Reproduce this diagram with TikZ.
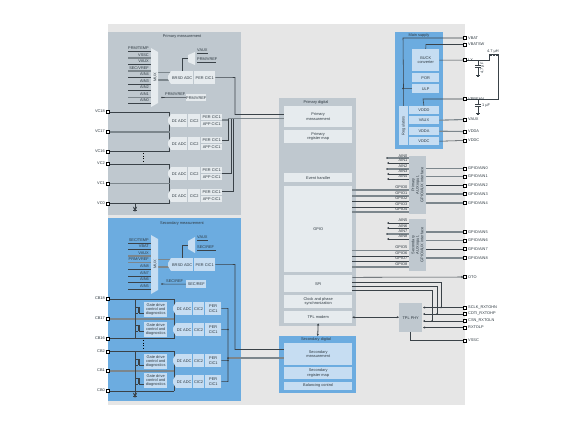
\documentclass[tikz,border=0pt]{standalone}
\usepackage{fontspec}
\setmainfont{Liberation Sans}
\usetikzlibrary{arrows.meta,backgrounds}
\definecolor{bgc}{HTML}{E6E6E6}
\definecolor{panG}{HTML}{BFC8CF}
\definecolor{panB}{HTML}{6CACE0}
\definecolor{boxG}{HTML}{E6EBEE}
\definecolor{boxB}{HTML}{C6DDF2}
\definecolor{ink}{HTML}{2F3A42}
\definecolor{wire}{HTML}{3A4248}
\definecolor{wireg}{HTML}{7C868C}
\newcommand{\fsl}{/}
\tikzset{
 every node/.style={font=\fontsize{3.9}{4.4}\selectfont,text=ink,inner sep=0pt,align=center},
 panelG/.style={fill=panG},
 panelB/.style={fill=panB},
 boxg/.style={fill=boxG},
 boxb/.style={fill=boxB},
 lab/.style={anchor=west},
 labr/.style={anchor=east},
 pinbox/.style={draw=black,fill=white,line width=0.6pt,minimum size=2.6pt},
 ln/.style={draw=wire,line width=0.55pt},
 lng/.style={draw=wireg,line width=1.1pt},
 >={Stealth[length=2.2pt,width=2.2pt]},
}
\newcommand{\mybox}[7]{%
 \pgfmathsetmacro\bwid{(#5)-(#3)}\pgfmathsetmacro\bhei{(#6)-(#4)}%
 \node[#1,minimum width=\bwid pt,minimum height=\bhei pt,anchor=north west] (#2) at (#3,#4) {#7};}
\newcommand{\adcpt}[4]{\fill[#1] (#2,#3) -- (#2-3,{(#3+#4)/2-1.5}) -- (#2-3,{(#3+#4)/2+1.5}) -- (#2,#4) -- cycle;}
\newcommand{\fetsym}[2]{%
 \draw[ln,line width=0.45pt] (#1,#2-3) -- (#1+3,#2-3) (#1+3,#2+3) -- (#1,#2+3);
 \draw[ln,line width=0.8pt] (#1+3,#2-3) -- (#1+3,#2+3);
 \draw[ln,line width=0.45pt] (#1+4.5,#2-3) -- (#1+4.5,#2+3) -- (#1+9,#2+3);}
\begin{document}
\begin{tikzpicture}[x=1pt,y=-1pt]
\useasboundingbox (0,0) rectangle (582,429);
\begin{scope}[on background layer]
\fill[white] (0,0) rectangle (582,429);
\mybox{fill=bgc}{bg}{108}{24}{465}{405}{}
\mybox{panelG}{pm}{108}{32}{241}{215}{}
\mybox{panelB}{sm}{108}{218}{241}{401}{}
\mybox{panelG}{pd}{279}{98}{356}{326}{}
\mybox{panelB}{sd}{279}{336}{356}{393}{}
\mybox{panelB}{ms}{395}{32}{443}{149}{}
\mybox{panelG}{afeA}{409}{156}{426}{214}{}
\mybox{panelG}{afeB}{409}{219}{426}{271}{}
\end{scope}
% titles
\node (tpm) at (182,36.5) {Primary measurement};
\node (tsm) at (182,223.5) {Secondary measurement};
\node (tpd) at (316,102.5) {Primary digital};
\node (tsd) at (316,339.5) {Secondary digital};
\node (tms) at (419,35) {Main supply};
% primary digital blocks
\mybox{boxg}{dpm}{284}{106}{352}{127}{Primary\\measurement}
\mybox{boxg}{dprm}{284}{130}{352}{143}{Primary\\register map}
\mybox{boxg}{dev}{284}{173}{352}{182}{Event handler}
\mybox{boxg}{dgp}{284}{186}{352}{272}{GPIO}
\mybox{boxg}{dspi}{284}{275}{352}{292}{SPI}
\mybox{boxg}{dclk}{284}{295}{352}{308}{Clock and phase\\synchronization}
\mybox{boxg}{dtpl}{284}{311}{352}{323}{TPL modem}
% secondary digital blocks
\mybox{boxb}{dsm}{284}{343}{352}{365}{Secondary\\measurement}
\mybox{boxb}{dsrm}{284}{366.5}{352}{379}{Secondary\\register map}
\mybox{boxb}{dbal}{284}{381.5}{352}{390}{Balancing control}
% main supply
\mybox{boxb}{buck}{412}{49}{439}{71}{BUCK\\converter}
\mybox{boxb}{por}{412}{73}{439}{82}{POR}
\mybox{boxb}{ulp}{412}{84}{439}{93}{ULP}
\mybox{boxb}{regs}{399}{106}{408}{145}{\rotatebox{90}{Regulators}}
\mybox{boxb}{vddd}{408.5}{106}{439}{114}{VDDD}
\mybox{boxb}{vaux}{408.5}{116}{439}{124}{VAUX}
\mybox{boxb}{vdda}{408.5}{127}{439}{135}{VDDA}
\mybox{boxb}{vddc}{408.5}{137}{439}{145}{VDDC}
% TPL PHY
\mybox{panelG}{phy}{399}{303}{422}{332}{TPL PHY}
% AFE texts
\node[rotate=90] (afeAt) at (417.5,185) {Primary\\AUX input,\\GPIO/AUX interface};
\node[rotate=90] (afeBt) at (417.5,245) {Secondary\\AUX input,\\GPIO/AUX interface};
% primary measurement analog
\fill[boxG] (151,48) -- (158,52) -- (158,103) -- (151,107) -- cycle;
\node[rotate=90] (muxA) at (155,77) {MUX};
\fill[boxG] (188,55) -- (195,52) -- (195,65) -- (188,62) -- cycle;
\coordinate (mmA) at (188,58.5);
\adcpt{boxG}{171}{71}{84}
\mybox{boxg}{bradcA}{171}{71}{193}{84}{BRSD ADC}
\mybox{boxg}{brperA}{194}{71}{215}{84}{PER CIC1}
\mybox{boxg}{vrefA}{186}{94}{206}{101}{PRM/VREF}
\node[lab] (lvrefA) at (165,94) {PRM/VREF};
\node[lab] (lmmA1) at (197,50) {VAUX};
\node[lab] (lmmA2) at (197,59) {PRM/VREF};
% secondary measurement analog
\fill[boxB] (151,235) -- (158,239) -- (158,290) -- (151,294) -- cycle;
\node[rotate=90] (muxB) at (155,264.5) {MUX};
\fill[boxB] (188,241) -- (195,237) -- (195,253) -- (188,249) -- cycle;
\coordinate (mmB) at (188,245);
\adcpt{boxB}{171}{258}{271}
\mybox{boxb}{bradcB}{171}{258}{193}{271}{BRSD ADC}
\mybox{boxb}{brperB}{194}{258}{215}{271}{PER CIC1}
\mybox{boxb}{vrefB}{186}{280}{206}{288}{SEC/REF}
\node[lab] (lvrefB) at (166,281) {SEC/REF};
\node[lab] (lmmB1) at (197,237) {VAUX};
\node[lab] (lmmB2) at (197,247) {SEC/REF};
% primary channels
\foreach \n/\yy in {a/114,b/137,c/167,d/189}{
 \adcpt{boxG}{171}{\yy}{\yy+13}
 \mybox{boxg}{adc\n}{171}{\yy}{187}{\yy+13}{DΣ ADC}
 \mybox{boxg}{cic\n}{188}{\yy}{200}{\yy+13}{CIC2}
 \mybox{boxg}{per\n}{201}{\yy}{222}{\yy+6.2}{PER CIC1}
 \mybox{boxg}{app\n}{201}{\yy+6.8}{222}{\yy+13}{APP CIC1}
}
% secondary channels
\foreach \n/\yy/\gy in {a/302/302,b/323/322,c/354/354,d/375/373}{
 \adcpt{boxB}{176}{\yy}{\yy+13}
 \mybox{boxb}{sadc\n}{176}{\yy}{192}{\yy+13}{DΣ ADC}
 \mybox{boxb}{scic\n}{192.7}{\yy}{204}{\yy+13}{CIC2}
 \mybox{boxb}{sper\n}{205}{\yy}{221}{\yy+13}{PER\\CIC1}
 \mybox{boxb}{gate\n}{144}{\gy}{167}{\gy+14.5}{Gate drive\\control and\\diagnostics}
}
% pins left
\foreach \n/\yy in {VC18/112,VC17/132,VC16/151.5,VC2/164,VC1/183.5,VC0/203.5,CB18/299,CB17/319,CB16/338.5,CB2/351.5,CB1/371,CB0/391}{
 \node[pinbox] (p\n) at (107.5,\yy) {};
 \node[labr] (l\n) at (105,\yy-0.7) {\n};
}
% pins right
\foreach \n/\tx/\yy in {a/VBAT/38,b/VBATSW/44.5,c/LX/60,d/VPREHV/99,e/VAUX/119.5,f/VDDA/131.5,g/VDDC/140.5,
 h/GPIO\fsl{}AIN0/168.5,i/GPIO\fsl{}AIN1/176.5,j/GPIO\fsl{}AIN2/185.5,k/GPIO\fsl{}AIN3/194,l/GPIO\fsl{}AIN4/203,
 m/GPIO\fsl{}AIN5/232,n/GPIO\fsl{}AIN6/240.5,o/GPIO\fsl{}AIN7/249,q/GPIO\fsl{}AIN8/258,r/OTO/277,
 s/SCLK\_RXTOHN/307.5,t/CDTI\_RXTOHP/314,u/CSN\_RXTOLN/321,v/RXTOLP/327.5,w/VSSC/340.5}{
 \node[pinbox] (r\n) at (465,\yy) {};
 \node[lab] (rl\n) at (468,\yy-0.2) {\tx};
}
% labels on AFE left side
\foreach \n/\tx/\yy in {a/AIN0/155.7,b/AIN1/160.5,c/AIN2/166.5,d/AIN3/171,e/AIN4/176,f/AIN5/220.5,g/AIN6/226,h/AIN7/231,i/AIN8/236,
 j/GPIO0/187,k/GPIO1/193.5,l/GPIO2/198,m/GPIO3/204,n/GPIO4/209,o/GPIO5/247,q/GPIO6/253,s/GPIO7/258,t/GPIO8/264}{
 \node[labr] (al\n) at (407.5,\yy) {\tx};
}
% mux input labels
\foreach \i/\tx/\yy in {1/PRM\fsl{}TEMP/48,2/VSSC/55,3/VAUX/61.5,4/SEC\fsl{}VREF/68,5/AIN4/74.5,6/AIN3/81.5,7/AIN2/87.5,8/AIN1/94.5,9/AIN0/100.5}{
 \node[labr] (ma\i) at (149,\yy) {\tx};
}
\foreach \i/\tx/\yy in {1/SEC\fsl{}TEMP/240,2/VBAT/246.5,3/VAUX/253,4/PRM\fsl{}VREF/259.5,5/AIN8/266.5,6/AIN7/273,7/AIN6/279.5,8/AIN5/286.5}{
 \node[labr] (mb\i) at (149,\yy) {\tx};
}
% passive labels
\node (lh) at (493,52) {4.7 µH};
\node[rotate=90] (lc1) at (482.5,68) {4.7 µF};
\node[lab] (lc2) at (482,105.5) {1 µF};
% coordinates for wiring
\coordinate (busA1) at (169.5,151.5);
\coordinate (busA2) at (169.5,203.5);
\coordinate (busB1) at (174,338.5);
\coordinate (busB2) at (174,391);
\coordinate (gA) at (135,212);
\coordinate (gB) at (135,398);
\coordinate (pbus) at (228,118.5);
\coordinate (sbus) at (228,358);
% wires on the background layer, above the panels
\begin{scope}[on background layer]
% mux inputs
\foreach \i/\s/\yy in {1/ln/51,2/lng/58,3/ln/64.5,4/lng/71,5/ln/77.5,6/ln/84.5,7/ln/90.5,8/lng/97.5,9/ln/103.5}{
 \coordinate (maE\i) at (128,\yy); \draw[\s] (maE\i) -- ++(23,0);}
\foreach \i/\s/\yy in {1/ln/243,2/ln/249.5,3/lng/256,4/lng/262.5,5/ln/269.5,6/ln/276,7/ln/282.5,8/ln/289.5}{
 \coordinate (mbE\i) at (128,\yy); \draw[\s] (mbE\i) -- ++(23,0);}
\draw[lng] (158,72.5) -- (171,72.5);
\draw[lng] (158,80) -- (171,80);
\draw[lng] (158,259.5) -- (171,259.5);
\draw[lng] (158,267) -- (171,267);
\draw[ln] (mmA) -- (182,58.5) -- (182,71);
\draw[ln] (mmB) -- (182,245) -- (182,258);
\draw[ln] (197,53) -- (208,53) (197,62) -- (216,62);
\draw[ln] (197,240) -- (208,240) (197,250) -- (216,250);
\draw[ln] (162,97.5) -- (vrefA.west);
\fill[wire] (162,97.5) circle (0.9);
\draw[ln] (162,284) -- (vrefB.west);
\fill[wire] (162,284) circle (0.9);
% primary outputs
\draw[ln] (brperA.east) -- (235,77.5) -- (235,114.5) -- (dpm.west |- 0,114.5);
\draw[lng] (pbus) -- (dpm.west |- 0,118.5);
\draw[lng] (pera.east |- 0,120) -- (228,120);
\draw[ln] (perb.east |- 0,140) -- (228,140) -- (pbus);
\draw[ln] (perc.east |- 0,173) -- (231,173) -- (231,118.5);
\draw[ln] (perd.east |- 0,191) -- (233,191) -- (233,118.5);
% secondary outputs
\draw[ln] (brperB.east) -- (235,264.5) -- (235,349.5) -- (dsm.west |- 0,349.5);
\draw[lng] (sbus) -- (dsm.west |- 0,358);
\draw[ln] (sperb.east) -- (228,329.5);
\draw[ln] (spera.east) -- (228,308.5) -- (228,381.5) -- (sperd.east);
\draw[ln] (sperc.east) -- (228,360.5);
\fill[wire] (sbus) circle (1) (228,329.5) circle (0.8) (228,360.5) circle (0.8);
% VC wiring
\draw[ln] (pVC18) -| (busA1);
\draw[lng] (pVC17) -- (169.5,132);
\draw[ln] (pVC16) -- (busA1);
\draw[ln] (pVC2) -| (busA2);
\draw[lng] (pVC1) -- (169.5,183.5);
\draw[ln] (pVC0) -- (busA2);
\draw[ln,-Stealth] (135,203.5) -- (gA);
\draw[line width=0.9pt,draw=wire] (133,210) -- (137,210);
\draw[line width=0.7pt,dotted,draw=black] (143.5,153) -- (143.5,162);
% CB wiring
\draw[ln] (pCB18) -| (busB1);
\draw[lng] (pCB17) -- (174,319);
\draw[ln] (pCB16) -- (busB1);
\draw[ln] (pCB2) -| (busB2);
\draw[lng] (pCB1) -- (174,371);
\draw[ln] (pCB0) -- (busB2);
\draw[ln] (135,299) -- (135,338.5);
\draw[ln,-Stealth] (135,351.5) -- (gB);
\draw[line width=0.9pt,draw=wire] (133,396) -- (137,396);
\draw[line width=0.7pt,dotted,draw=black] (143.5,340) -- (143.5,349);
% digital links
\draw[lng] (dgp.east |- 0,190) -- (409,190);
\draw[lng] (dgp.east |- 0,196) -- (409,196);
\draw[ln] (dgp.east |- 0,201) -- (409,201);
\draw[ln] (dgp.east |- 0,207) -- (409,207);
\draw[lng] (dgp.east |- 0,212) -- (409,212);
\draw[lng] (dgp.east |- 0,250.5) -- (409,250.5);
\draw[ln] (dgp.east |- 0,256) -- (409,256);
\draw[ln] (dgp.east |- 0,261) -- (409,261);
\draw[lng] (dgp.east |- 0,267) -- (409,267);
\draw[ln,line width=0.8pt,<->] (dtpl.south) -- (sd.north);
\draw[ln,line width=0.8pt,<->] (dtpl.east) -- (phy.west |- dtpl.east);
\draw[ln,->] (dspi.east |- 0,277.3) -- (rr);
\draw[ln] (dspi.east |- 0,282) -- (441,282) -- (441,307.5);
\draw[ln] (dspi.east |- 0,286) -- (437,286) -- (437,314);
\draw[ln] (dspi.east |- 0,290.3) -- (432,290.3) -- (432,321);
\fill[wire] (441,307.5) circle (0.8) (437,314) circle (0.8) (432,321) circle (0.8);
\draw[ln,<-] (423,307.5) -- (rs);
\draw[ln,<-] (423,314) -- (rt);
\draw[ln,<-] (423,321) -- (ru);
\draw[ln,<-] (423,327.5) -- (rv);
\draw[ln] (410,332) |- (rw);
% AFE to pins
\foreach \n/\s in {h/lng,i/lng,j/ln,k/lng,l/lng}{\draw[\s] (afeA.east |- r\n) -- (r\n);}
\foreach \n/\s in {m/lng,n/lng,o/ln,q/lng}{\draw[\s] (afeB.east |- r\n) -- (r\n);}
% AFE left stubs
\coordinate (sa1) at (387,158); \coordinate (sa2) at (387,163); \coordinate (sa3) at (387,169); \coordinate (sa4) at (387,174); \coordinate (sa5) at (387,179);
\draw[lng] (sa1) -- (409,158); \draw[ln,<-] (sa2) -- (409,163); \draw[lng] (sa3) -- (409,169); \draw[ln,<-] (sa4) -- (409,174); \draw[ln,<-] (sa5) -- (409,179);
\fill[wire] (387,158) circle (0.9) (387,169) circle (0.9);
\coordinate (sb1) at (387,223); \coordinate (sb2) at (387,228); \coordinate (sb3) at (387,234); \coordinate (sb4) at (387,239);
\draw[ln,<-] (sb1) -- (409,223); \draw[ln,<-] (sb2) -- (409,228); \draw[lng] (sb3) -- (409,234); \draw[ln,<-] (sb4) -- (409,239);
\fill[wire] (387,234) circle (0.9);
% main supply wiring
\draw[ln] (ra) -- (403,38) -- (regs.north);
\draw[ln] (rb) -- (426,44.5) -- (buck.north);
\draw[ln] (ulp.west) -- (403,88.5);
\fill[wire] (403,88.5) circle (0.9);
\draw[ln] (buck.east) -- (rc);
\draw[ln] (rc) -- (489,60) -- (489,56);
\draw[ln] (rd) -- (423,99) -- (vddd.north);
\draw[ln] (rd) -- (498,99) -- (498,56);
\draw[lng] (vaux.east) -- (re);
\draw[lng] (vdda.east) -- (rf);
\draw[ln] (vddc.east) -- (rg);
\end{scope}
% passives
\draw[ln,line width=0.7pt] (489,56) -- (489,54.5) -- (498,54.5) -- (498,56);
\draw[line width=1pt,draw=wire,dash pattern=on 1pt off 0.5pt] (489.5,55.8) -- (497.5,55.8);
\draw[ln] (478,60) -- (478,75);
\fill[white] (475,65) rectangle (481,67);
\draw[ln] (475,65) -- (481,65) (475,67) -- (481,67);
\draw[ln] (476,75) -- (480,75) (477,76) -- (479,76);
\draw[ln] (478,99) -- (478,113);
\fill[white] (475,104.5) rectangle (481,106.5);
\draw[ln] (475,104.5) -- (481,104.5) (475,106.5) -- (481,106.5);
\draw[ln] (476,113) -- (480,113) (477,114) -- (479,114);
% transistors
\foreach \yy in {310,328,362,381}{\fetsym{135}{\yy}}
\end{tikzpicture}
\end{document}
